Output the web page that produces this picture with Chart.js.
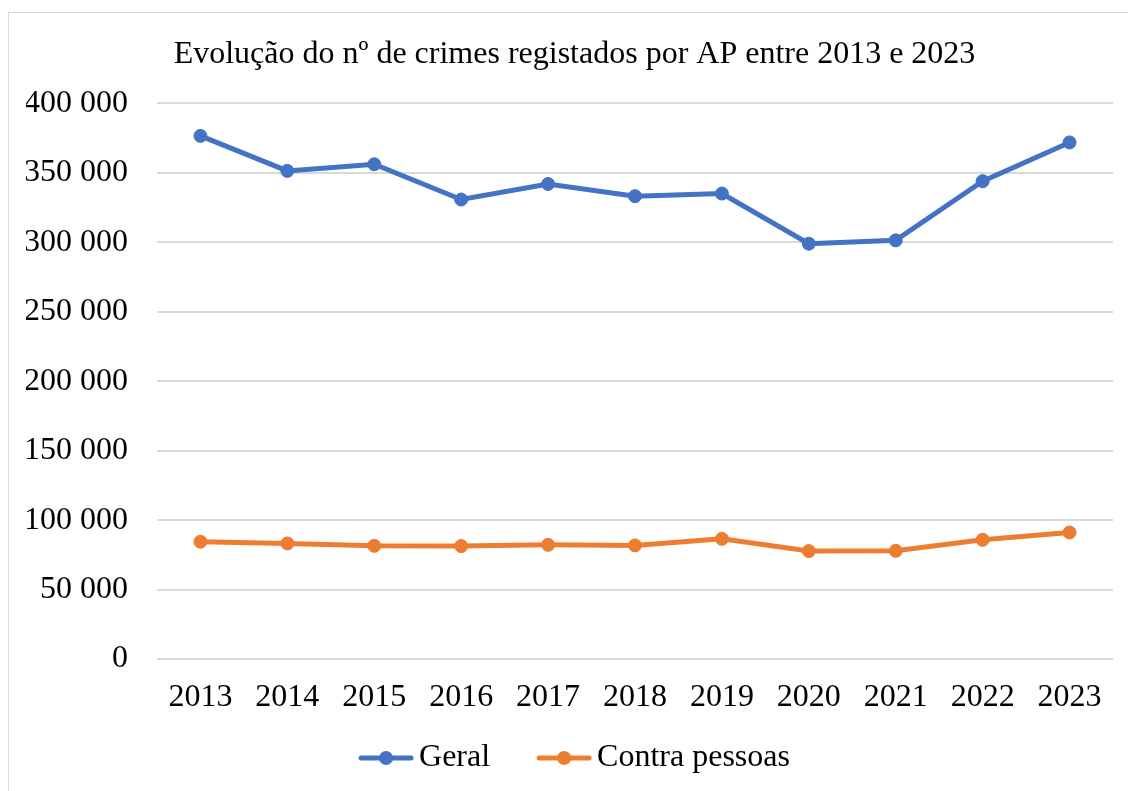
<!DOCTYPE html>
<html lang="pt">
  <head>
    <meta charset="UTF-8" />
    <title>Evolução do nº de crimes registados por AP</title>
    <script src="https://cdn.jsdelivr.net/npm/chart.js"></script>
    <style>
      html, body { margin: 0; padding: 0; background: #fff; }
      #wrap { width: 1128px; height: 791px; }
    </style>
  </head>
  <body>
    <div id="wrap"><canvas id="myChart"></canvas></div>
    <script>
      // dados
      var anos = ["2013", "2014", "2015", "2016", "2017", "2018", "2019", "2020", "2021", "2022", "2023"]
      var geral = [376600, 351400, 356200, 330800, 342000, 333200, 335100, 299000, 301400, 344000, 371900]
      var contraPessoas = [84400, 83200, 81500, 81300, 82200, 81800, 86500, 77700, 77900, 85800, 91100]
      var nomesSeries = ["Geral", "Contra pessoas"]
      var titulo = "Evolução do nº de crimes registados por AP entre 2013 e 2023"

      var azul = "#4472C4"
      var laranja = "#ED7D31"
      var fonte = "'Liberation Serif', 'Times New Roman', serif"

      // marcador da legenda: linha com círculo (deslocado para a direita no
      // canvas para ficar colado ao texto)
      function marcador(cor) {
        var c = document.createElement("canvas")
        c.width = 76
        c.height = 18
        var g = c.getContext("2d")
        g.strokeStyle = cor
        g.lineWidth = 5
        g.lineCap = "round"
        g.beginPath()
        g.moveTo(22, 9)
        g.lineTo(72, 9)
        g.stroke()
        g.fillStyle = cor
        g.beginPath()
        g.arc(47, 9, 7, 0, Math.PI * 2)
        g.fill()
        return c
      }

      function milhares(v) {
        return String(v).replace(/\B(?=(\d{3})+(?!\d))/g, " ")
      }

      var fundo = {
        id: "fundo",
        afterLayout: function (chart) {
          // centrar título e legenda como no original
          chart.titleBlock.left += 10
          chart.legend.left += 2
          // deixar espaço para os rótulos do eixo x não serem cortados
          chart.scales.x.bottom += 30
        },
        beforeDraw: function (chart) {
          var ctx = chart.ctx
          ctx.save()
          ctx.fillStyle = "#fff"
          ctx.fillRect(0, 0, chart.width, chart.height)
          ctx.strokeStyle = "#d9d9d9"
          ctx.lineWidth = 1
          ctx.strokeRect(8.5, 12.5, chart.width + 20, chart.height + 20)
          ctx.restore()
        },
      }

      var ctx = document.getElementById("myChart").getContext("2d")
      var myChart = new Chart(ctx, {
        type: "line",
        data: {
          labels: anos,
          datasets: [
            {
              label: nomesSeries[0],
              data: geral,
              borderColor: azul,
              backgroundColor: azul,
              borderWidth: 5,
              pointRadius: 6.5,
              pointBorderWidth: 1,
              pointStyle: "circle",
              tension: 0,
            },
            {
              label: nomesSeries[1],
              data: contraPessoas,
              borderColor: laranja,
              backgroundColor: laranja,
              borderWidth: 5,
              pointRadius: 6.5,
              pointBorderWidth: 1,
              pointStyle: "circle",
              tension: 0,
            },
          ],
        },
        options: {
          responsive: true,
          maintainAspectRatio: false,
          animation: false,
          layout: {
            padding: { left: 26, right: 15, top: 0, bottom: 7 },
          },
          scales: {
            x: {
              offset: true,
              grid: { display: false, drawTicks: false },
              border: { display: false },
              ticks: {
                color: "#000",
                padding: 19,
                maxRotation: 0,
                font: { family: fonte, size: 32 },
              },
              afterFit: function (scale) {
                scale.height = 44
              },
            },
            y: {
              min: 0,
              max: 400000,
              grid: { color: "#d9d9d9", lineWidth: 2, drawTicks: false },
              border: { display: false },
              ticks: {
                stepSize: 50000,
                color: "#000",
                padding: 29,
                font: { family: fonte, size: 32 },
                callback: function (v) {
                  return milhares(v)
                },
              },
              afterFit: function (scale) {
                scale.width = 131
              },
            },
          },
          plugins: {
            title: {
              display: true,
              text: titulo,
              color: "#000",
              font: { family: fonte, size: 32, weight: "normal" },
              padding: { top: 35, bottom: 30 },
            },
            legend: {
              position: "bottom",
              labels: {
                color: "#000",
                font: { family: fonte, size: 32 },
                usePointStyle: true,
                pointStyleWidth: 52,
                padding: 39,
                generateLabels: function (chart) {
                  return chart.data.datasets.map(function (ds, i) {
                    return {
                      text: ds.label,
                      pointStyle: marcador(ds.borderColor),
                      fillStyle: ds.borderColor,
                      strokeStyle: ds.borderColor,
                      lineWidth: 0,
                      hidden: false,
                      datasetIndex: i,
                    }
                  })
                },
              },
            },
            tooltip: { enabled: false },
          },
        },
        plugins: [fundo],
      })
    </script>
  </body>
</html>
